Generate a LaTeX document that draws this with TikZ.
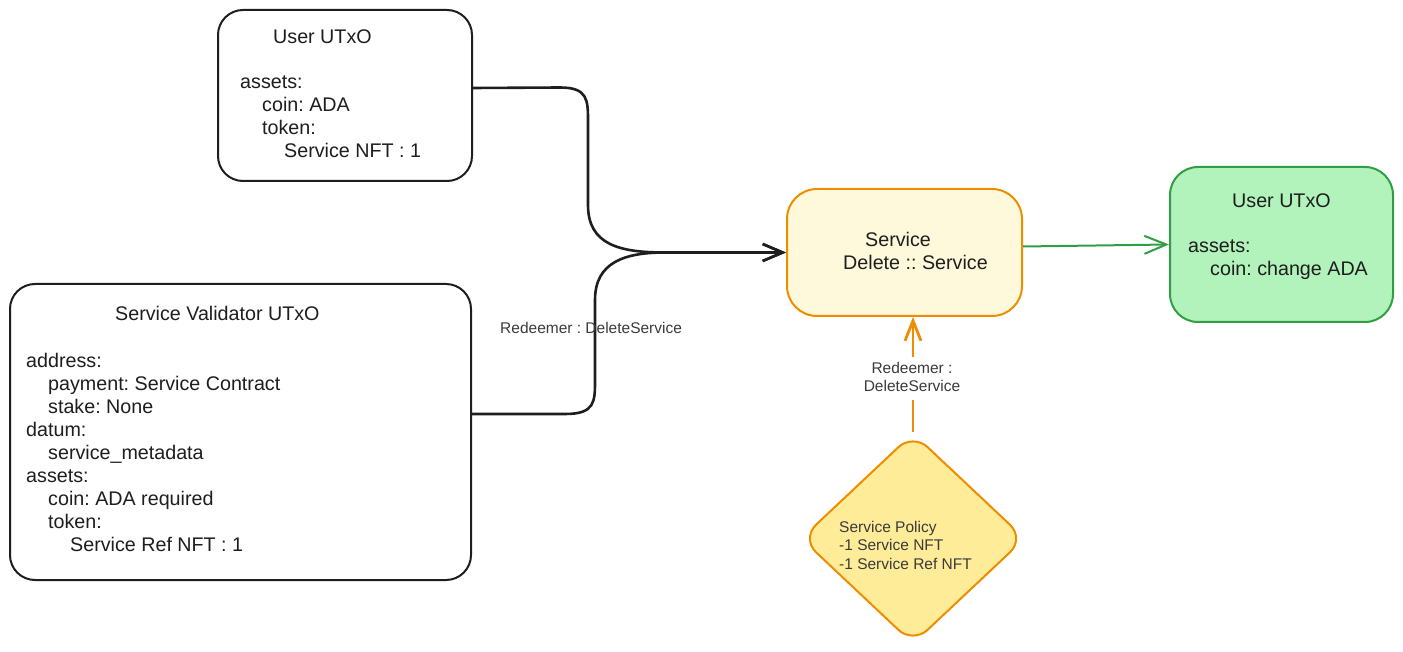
\documentclass[tikz,border=0pt]{standalone}
\usepackage{fontspec}
\setmainfont{Liberation Sans}
\usetikzlibrary{arrows.meta,shapes.geometric}
\definecolor{ink}{HTML}{1E1E1E}
\definecolor{lbl}{HTML}{3A3A3A}
\definecolor{orng}{HTML}{F08C00}
\definecolor{svcfill}{HTML}{FFF9DB}
\definecolor{polfill}{HTML}{FFEC99}
\definecolor{grnfill}{HTML}{B2F2BB}
\definecolor{grnline}{HTML}{2F9E44}
\frenchspacing
\newcommand{\mylines}[1]{\begin{tabular}[t]{@{}l@{}}#1\end{tabular}}
\newcommand{\mycenter}[1]{\begin{tabular}[t]{@{}c@{}}#1\end{tabular}}
\newcommand{\ind}{\hspace*{22pt}}
\tikzset{
  box/.style={draw=ink, line width=2pt, rounded corners=25pt, inner sep=0pt, fill=white},
  big/.style={font=\fontsize{19.7}{23}\selectfont, text=ink, inner sep=0pt, anchor=base west},
  small/.style={font=\fontsize{15.5}{18.5}\selectfont, text=lbl, inner sep=0pt},
  conn/.style={draw=ink, line width=2.6pt, line cap=round},
  blackhead/.style={-{Straight Barb[length=20pt,width=17pt]}},
}
\begin{document}
\begin{tikzpicture}[x=1pt,y=1pt]
\useasboundingbox (0,0) rectangle (1403,-652);

% boxes
\node[box, minimum width=254pt, minimum height=171pt] (user) at (345,-95.5) {};
\node[box, minimum width=461pt, minimum height=296pt] (val) at (240.5,-432) {};
\node[box, draw=orng, fill=svcfill, rounded corners=30pt, minimum width=235pt, minimum height=127pt] (service) at (904.5,-252.5) {};
\node[box, draw=grnline, fill=grnfill, rounded corners=28pt, minimum width=223pt, minimum height=155pt] (green) at (1281.5,-244.5) {};
\node[diamond, draw=orng, fill=polfill, line width=2pt, rounded corners=20pt, inner sep=0pt, minimum width=224pt, minimum height=211pt] (policy) at (913,-538.5) {};

% texts
\node[big] (usertitle) at (273,-44) {User UTxO};
\node[big] (userbody) at (240,-89) {\mylines{assets:\\\ind coin: ADA\\\ind token:\\\ind\ind Service NFT : 1}};

\node[big] (valtitle) at (115,-321) {Service Validator UTxO};
\node[big] (valbody) at (26,-367) {\mylines{address:\\\ind payment: Service Contract\\\ind stake: None\\datum:\\\ind service\_metadata\\assets:\\\ind coin: ADA required\\\ind token:\\\ind\ind Service Ref NFT : 1}};

\node[big] (svctitle) at (865,-247) {Service};
\node[big] (svcbody) at (843,-270) {Delete :: Service};

\node[big] (grntitle) at (1232,-208) {User UTxO};
\node[big] (grnbody) at (1188,-253) {\mylines{assets:\\\ind coin: change ADA}};

\node[small, anchor=base west] (poltext) at (839,-532) {\mylines{Service Policy\\-1 Service NFT\\-1 Service Ref NFT}};

% connectors
\draw[conn, blackhead] ([yshift=7.5pt]user.east) -- (560,-87.5)
  .. controls (588,-87.5) and (588,-100) .. (588,-122) -- (588,-205)
  .. controls (588,-245) and (620,-252.5) .. (665,-252.5) -- (service.west);
\draw[conn, blackhead] ([yshift=18pt]val.east) -- (565,-414)
  .. controls (595,-414) and (595,-402) .. (595,-380) -- (595,-300)
  .. controls (595,-262) and (625,-252.5) .. (665,-252.5) -- (service.west);
\node[small, anchor=base west] (lbl1) at (500,-334) {Redeemer : DeleteService};

\draw[draw=grnline, line width=2pt, -{Straight Barb[length=22pt,width=18pt]}] ([yshift=6pt]service.east) -- (green.west);

\draw[draw=orng, line width=2.8pt, -{Straight Barb[length=20pt,width=16pt]}] (policy.north) -- (policy.north |- service.south);
\node[small, anchor=base, fill=white, inner sep=3pt] (lbl2) at (912,-373) {\mycenter{Redeemer :\\DeleteService}};
\end{tikzpicture}
\end{document}
